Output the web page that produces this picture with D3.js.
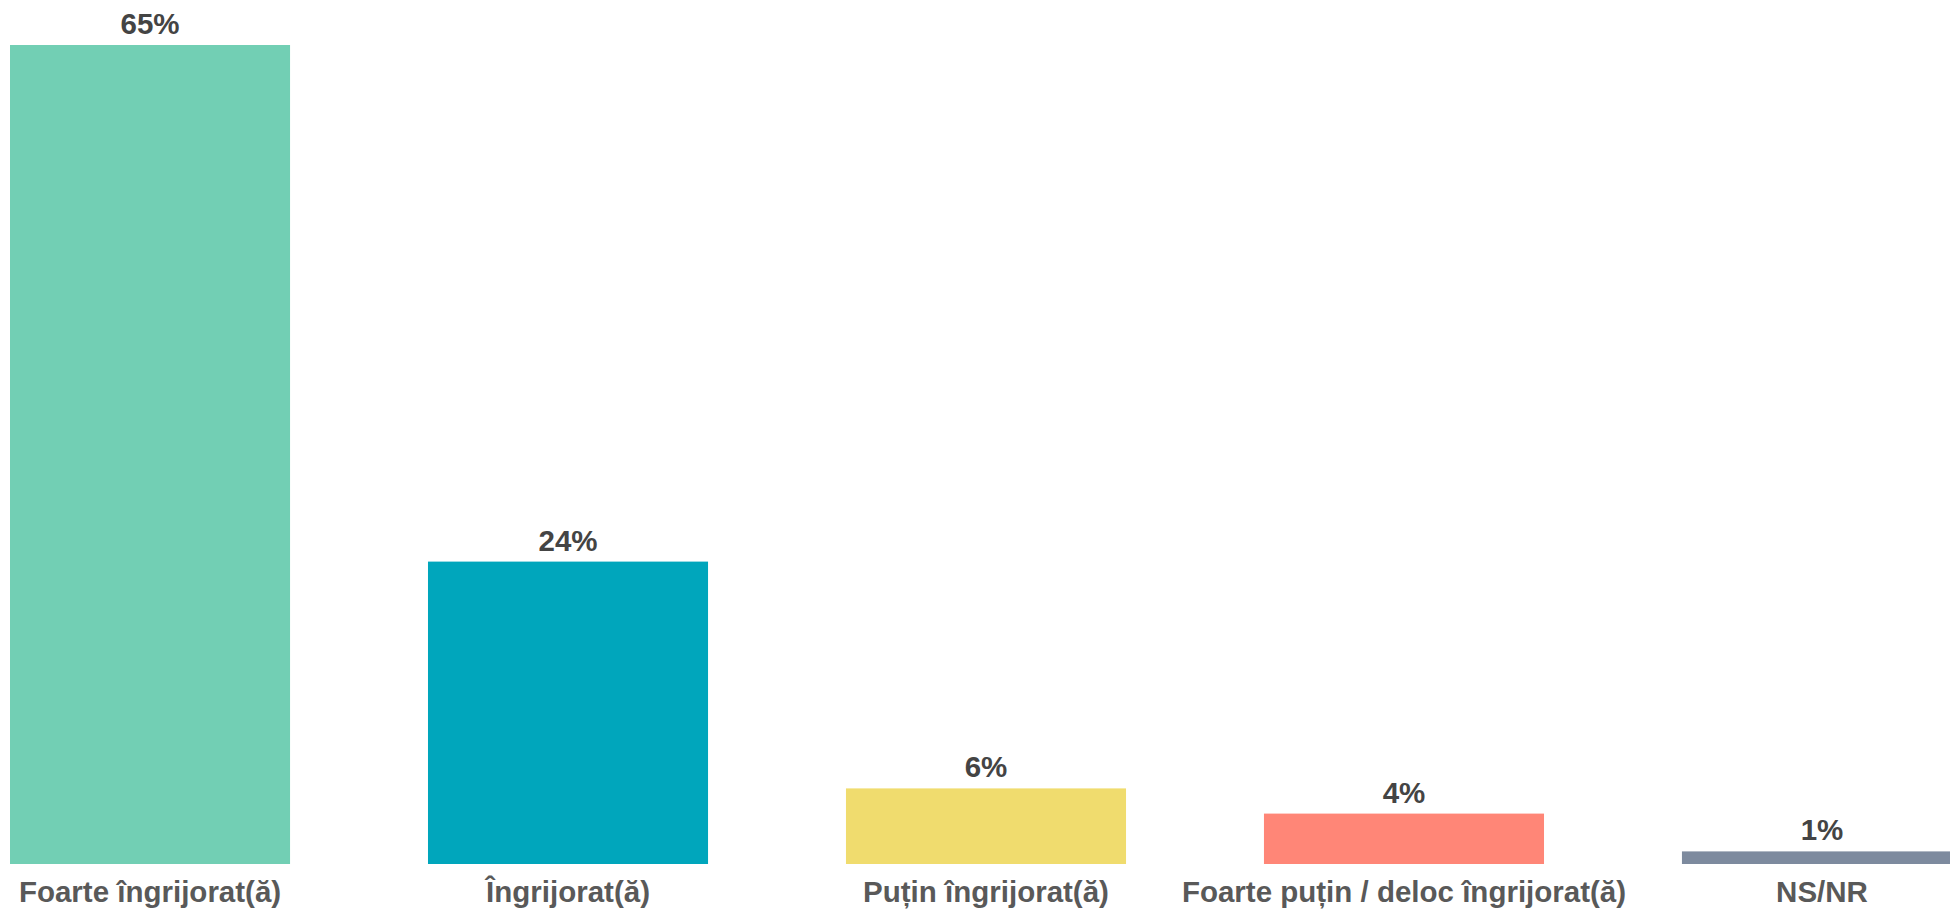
<!DOCTYPE html>
<html>
<head>
<meta charset="utf-8">
<script src="https://cdn.jsdelivr.net/npm/d3@7"></script>
<style>
  html, body { margin: 0; padding: 0; background: #fff; overflow: hidden; }
  svg { display: block; }
  .value-label { font-family: "Liberation Sans", Arial, sans-serif; font-weight: bold; font-size: 29.5px; fill: #444; }
  .cat-label { font-family: "Liberation Sans", Arial, sans-serif; font-weight: bold; font-size: 29.5px; fill: #595959; }
</style>
</head>
<body>
<div id="chart"></div>
<script>
// chart data
var categories = ['Foarte îngrijorat(ă)', 'Îngrijorat(ă)', 'Puțin îngrijorat(ă)', 'Foarte puțin / deloc îngrijorat(ă)', 'NS/NR'];
var values = [65, 24, 6, 4, 1];
var colors = ['#72cfb4', '#00a6bc', '#f0dc6e', '#ff8677', '#7d8a9e'];

var width = 1950, height = 910;
var baseline = 864;

var svg = d3.select('#chart').append('svg')
  .attr('width', width)
  .attr('height', height);

// last band runs past the right edge, as in the original
var x = d3.scaleBand()
  .domain(categories)
  .range([10, 1962])
  .paddingInner(0.33)
  .paddingOuter(0)
  .align(0);

var y = d3.scaleLinear()
  .domain([0, 65])
  .range([baseline, 45]);

var data = categories.map(function(c, i) {
  return { name: c, value: values[i], color: colors[i] };
});

var bars = svg.selectAll('g.bar')
  .data(data)
  .enter().append('g')
  .attr('class', 'bar');

bars.append('rect')
  .attr('x', function(d) { return x(d.name); })
  .attr('y', function(d) { return y(d.value); })
  .attr('width', x.bandwidth())
  .attr('height', function(d) { return y(0) - y(d.value); })
  .attr('fill', function(d) { return d.color; });

bars.append('text')
  .attr('class', 'value-label')
  .attr('x', function(d) { return x(d.name) + x.bandwidth() / 2; })
  .attr('y', function(d) { return y(d.value) - 11; })
  .attr('text-anchor', 'middle')
  .text(function(d) { return d.value + '%'; });

// category axis, drawn with d3.axisBottom but without line/ticks
var axis = svg.append('g')
  .attr('transform', 'translate(0,' + baseline + ')')
  .call(d3.axisBottom(x).tickSize(0).tickPadding(0));
axis.select('.domain').remove();
axis.selectAll('text')
  .attr('class', 'cat-label')
  .attr('dy', null)
  .attr('y', 38)
  .attr('fill', null);
axis.attr('font-size', null).attr('font-family', null);
</script>
</body>
</html>
